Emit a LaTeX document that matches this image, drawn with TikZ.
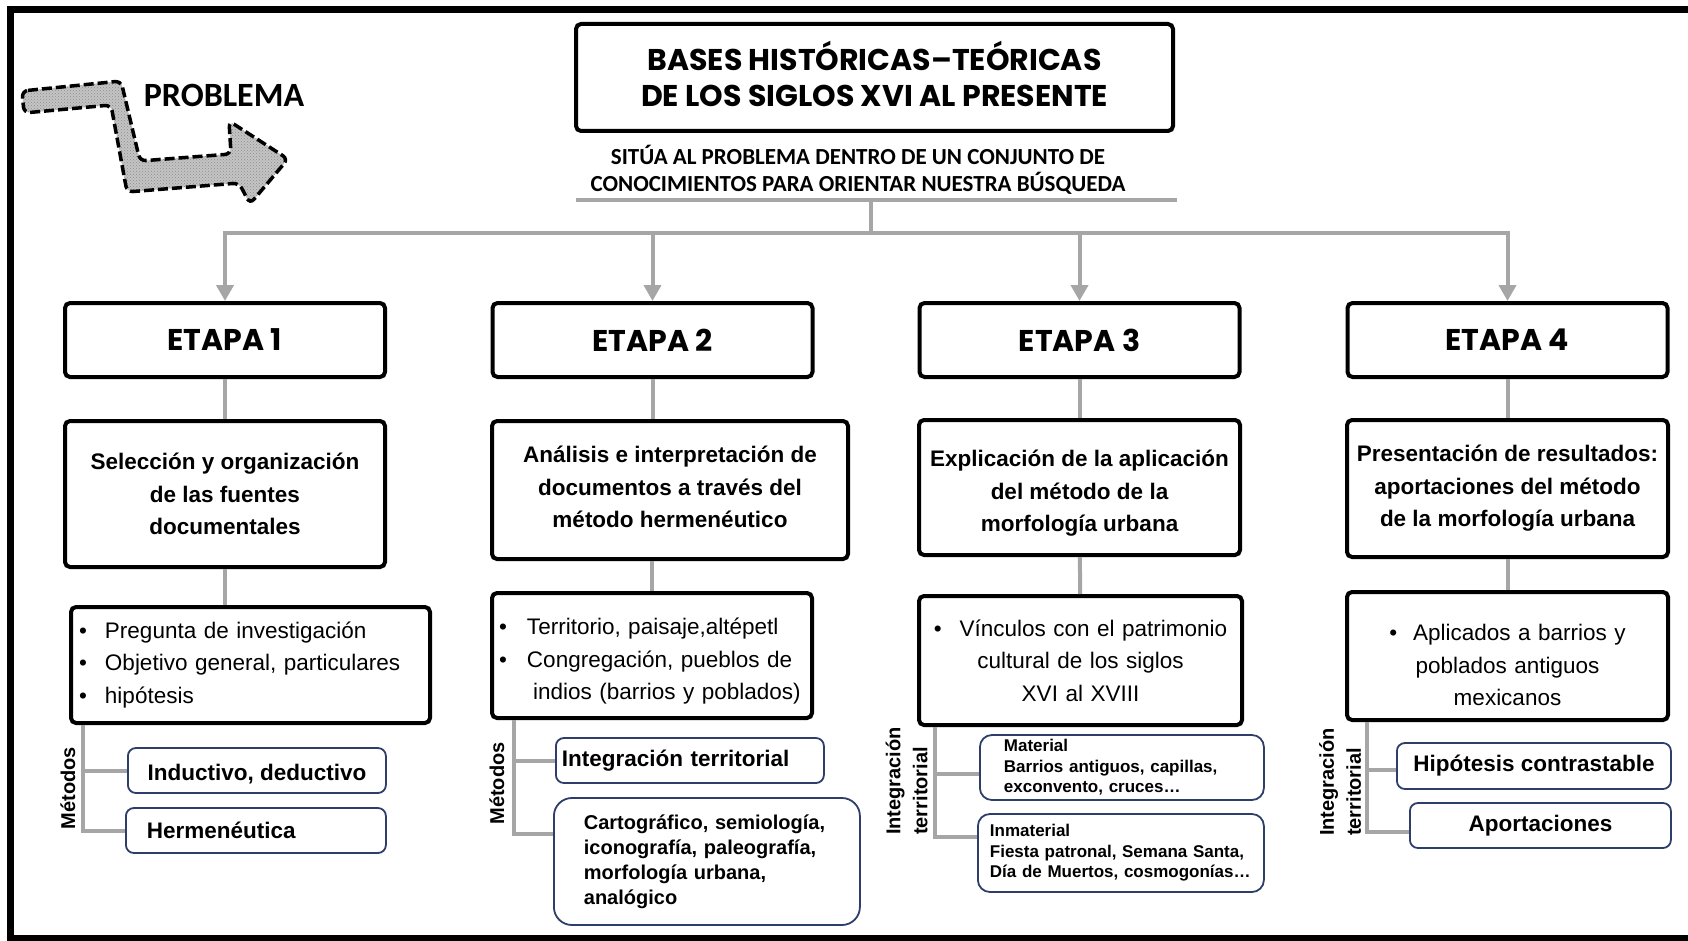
\documentclass[tikz,border=0pt]{standalone}
\usepackage{fontspec}
\setmainfont{Liberation Sans}
\newfontfamily\popfont{Poppins}
\newfontfamily\calfont{Carlito}
\usetikzlibrary{arrows.meta,positioning,patterns}

\definecolor{linkgray}{RGB}{166,166,166}
\definecolor{navy}{RGB}{44,62,105}
\definecolor{noisegray}{RGB}{196,196,196}

\newcommand{\fs}[2]{\fontsize{#1}{#2}\selectfont}
\newcommand{\itm}[1]{\makebox[#1][l]{\textbullet}}

\tikzset{
  etapa/.style={draw, line width=4pt, rounded corners=5pt, minimum width=320pt, minimum height=74pt, font=\popfont\bfseries\fs{30}{36}},
  desc/.style={draw, line width=4pt, rounded corners=5pt, align=center, font=\bfseries\fs{22.5}{32.5}},
  listbox/.style={draw, line width=4pt, rounded corners=5pt, font=\fs{22.5}{32.5}},
  method/.style={draw=navy, line width=1.8pt, rounded corners=8pt, anchor=west, font=\bfseries\fs{22.5}{27}},
  sidelabel/.style={rotate=90, align=left, inner sep=1pt, font=\bfseries\fs{20}{27}},
  link/.style={draw=linkgray, line width=4pt},
  feed/.style={link, -{Triangle[length=16pt,width=17pt]}},
}

\begin{document}
\begin{tikzpicture}[x=1pt,y=-1pt]
        \useasboundingbox (0,0) rectangle (1688,941);
        \draw[line width=7pt] (1688,10) -- (10.5,10) -- (10.5,938.5) -- (1688,938.5);

        % Problem arrow
        \draw[line width=3.5pt, preaction={fill=noisegray}, pattern=crosshatch dots, pattern color=black!45,
              rounded corners=6pt, dash pattern=on 10pt off 4pt]
            (22,91) -- (121,81) -- (140,161) -- (231,154) -- (229,121) -- (288,159)
            -- (250,204) -- (239,183) -- (127,192) -- (111,105) -- (24,113) -- cycle;
        \node (prob) [font=\calfont\bfseries\fs{34}{40}] at (224,95) {PROBLEMA};

        % Nodes
        \node (title) [draw, line width=4pt, rounded corners=5pt, minimum width=597pt, minimum height=107pt, align=center, font=\popfont\bfseries\fs{30}{35.5}] at (874.5,77.5) {BASES HISTÓRICAS–TEÓRICAS\\DE LOS SIGLOS XVI AL PRESENTE\rule[-7pt]{0pt}{0pt}};
        \node (aim) [align=center, font=\calfont\bfseries\fs{23}{27.5}] at (858,170) {SITÚA AL PROBLEMA DENTRO DE UN CONJUNTO DE\\CONOCIMIENTOS PARA ORIENTAR NUESTRA BÚSQUEDA};
        \coordinate (hub) at (871,200);
        \coordinate (bar) at (871,233);

        \node (e1) [etapa] at (225,340) {ETAPA 1};
        \node (e2) [etapa] at (652.5,340) {ETAPA 2};
        \node (e3) [etapa] at (1079.5,340) {ETAPA 3};
        \node (e4) [etapa] at (1507.5,340) {ETAPA 4};

        \node (d1) [desc, minimum width=320pt, minimum height=146pt] at (225,494) {Selección y organización\\de las fuentes\\documentales};
        \node (d2) [desc, minimum width=356pt, minimum height=138pt] at (670,490) {Análisis e interpretación de\\documentos a través del\\método hermenéutico\rule[-6pt]{0pt}{0pt}};
        \node (d3) [desc, minimum width=321pt, minimum height=135pt] at (1079.5,487.5) {\rule{0pt}{28pt}Explicación de la aplicación\\del método de la\\morfología urbana};
        \node (d4) [desc, minimum width=321pt, minimum height=137pt] at (1507.5,488.5) {Presentación de resultados:\\aportaciones del método\\de la morfología urbana};

        \node (l1) [listbox, minimum width=359pt, minimum height=116pt, text width=343pt, inner xsep=8pt, align=left] at (250.5,665) {\itm{26pt}Pregunta de investigación\\\itm{26pt}Objetivo general, particulares\\\itm{26pt}hipótesis};
        \node (l2) [listbox, minimum width=320pt, minimum height=125pt, text width=306pt, inner xsep=7pt, align=left] at (652,655.5) {\rule{0pt}{28pt}\itm{28pt}Territorio, paisaje,altépetl\\\itm{28pt}Congregación, pueblos de\\\hspace*{34pt}indios (barrios y poblados)};
        \node (l3) [listbox, minimum width=323pt, minimum height=129pt, text width=303pt, inner xsep=10pt, align=center] at (1080.5,660.5) {\textbullet\hspace{18pt}Vínculos con el patrimonio\\cultural de los siglos\\XVI al XVIII};
        \node (l4) [listbox, minimum width=321pt, minimum height=128pt, text width=301pt, inner xsep=10pt, align=center] at (1507.5,656) {\rule{0pt}{35pt}\textbullet\hspace{16pt}Aplicados a barrios y\\poblados antiguos\\mexicanos};

        \node (m1a) [method, minimum width=258pt, minimum height=45pt] at (127,770.5) {\rule{0pt}{24pt}Inductivo, deductivo};
        \node (m1b) [method, text width=218pt, inner xsep=21pt, align=left, minimum height=45pt] at (125,830.5) {Hermenéutica};
        \node (m2a) [method, text width=256pt, inner xsep=6pt, align=left, minimum height=45pt] at (555,760.5) {Integración territorial};
        \node (m2b) [method, text width=246pt, inner xsep=30pt, align=left, minimum height=127pt, rounded corners=18pt, font=\bfseries\fs{20}{25}] at (553,861.5) {Cartográfico, semiología,\\iconografía, paleografía,\\morfología urbana,\\analógico};
        \node (m3a) [method, text width=236pt, inner xsep=24pt, inner ysep=2pt, align=left, minimum height=65pt, rounded corners=12pt, font=\bfseries\fs{17}{20.5}] at (979,767.5) {Material\\Barrios antiguos, capillas,\\exconvento, cruces…};
        \node (m3b) [method, text width=262pt, inner xsep=12pt, inner ysep=2pt, align=left, minimum height=78pt, rounded corners=12pt, font=\bfseries\fs{17}{20.5}] at (977,853) {Inmaterial\\Fiesta patronal, Semana Santa,\\Día de Muertos, cosmogonías…};
        \node (m4a) [method, minimum width=274pt, minimum height=46pt] at (1396,766) {Hipótesis contrastable};
        \node (m4b) [method, minimum width=261pt, minimum height=45pt] at (1409,825.5) {Aportaciones};

        \node (met1) [sidelabel] at (68,788) {Métodos};
        \node (met2) [sidelabel] at (497,783.5) {Métodos};
        \node (int3) [sidelabel, anchor=west] at (906.5,836) {Integración\\territorial};
        \node (int4) [sidelabel, anchor=west] at (1340,837) {Integración\\territorial};

        \coordinate (s1) at ([xshift=14pt]l1.south west);
        \coordinate (s2) at ([xshift=24pt]l2.south west);
        \coordinate (s3) at ([xshift=18pt]l3.south west);
        \coordinate (s4) at ([xshift=22pt]l4.south west);

        % Edges
        \draw[link] (576,200) -- (1177,200);
        \draw[link] (hub) -- (bar);
        \draw[feed] (bar) -| (e1.north);
        \draw[feed] (bar) -| (e2.north);
        \draw[feed] (bar) -| (e3.north);
        \draw[feed] (bar) -| (e4.north);

        \draw[link] (e1) -- (d1);
        \draw[link] (e2.south) -- (e2.south |- d2.north);
        \draw[link] (e3) -- (d3);
        \draw[link] (e4) -- (d4);

        \draw[link] (d1.south) -- (d1.south |- l1.north);
        \draw[link] (l2.north |- d2.south) -- (l2.north);
        \draw[link] (d3) -- (l3);
        \draw[link] (d4) -- (l4);

        \draw[link] (s1) |- (m1a.west);
        \draw[link] (s1) |- (m1b.west);
        \draw[link] (s2) |- (m2a.west);
        \draw[link] (s2) |- ([yshift=28pt]m2b.west);
        \draw[link] (s3) |- ([yshift=-6pt]m3a.west);
        \draw[link] (s3) |- ([yshift=16pt]m3b.west);
        \draw[link] (s4) |- ([yshift=-4pt]m4a.west);
        \draw[link] (s4) |- ([yshift=-6pt]m4b.west);

    \end{tikzpicture}
\end{document}
